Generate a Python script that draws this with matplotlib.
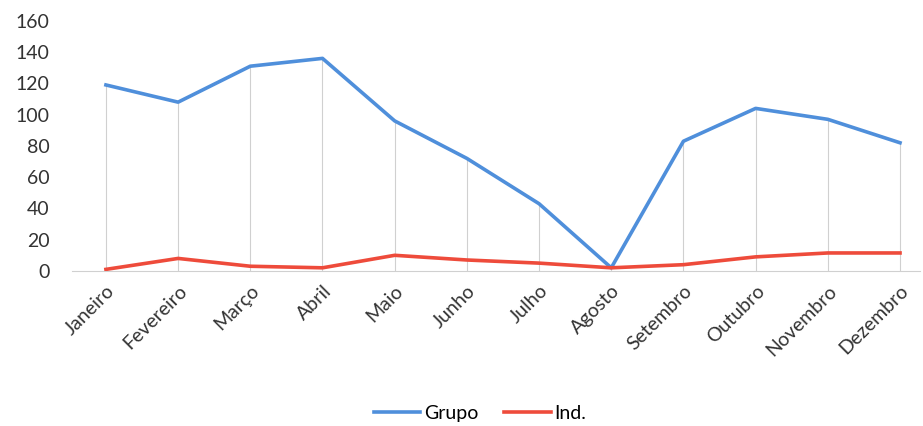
import matplotlib
matplotlib.use('Agg')
import matplotlib.pyplot as plt
import numpy as np

meses = ['Janeiro', 'Fevereiro', 'Março', 'Abril', 'Maio', 'Junho',
         'Julho', 'Agosto', 'Setembro', 'Outubro', 'Novembro', 'Dezembro']
grupo = [119, 108, 131, 136, 96, 72, 43, 2, 83, 104, 97, 82]
ind = [1, 8, 3, 2, 10, 7, 5, 2, 4, 9, 11.5, 11.5]

plt.rcParams['font.family'] = ['Lato', 'DejaVu Sans']

def main():
	fig = plt.figure(figsize=(9.23, 4.26), dpi=100)
	ax = fig.add_axes([0.078, 0.364, 0.919, 0.587])
	x = np.arange(len(meses))

	# drop lines from the higher point down to the axis
	top = np.maximum(grupo, ind)
	ax.vlines(x, 0, top, color='#d0d0d0', linewidth=0.8, zorder=1)

	ax.plot(x, grupo, color='#4F8FDB', linewidth=2.6, label='Grupo', zorder=3)
	ax.plot(x, ind, color='#EE4B3B', linewidth=2.6, label='Ind.', zorder=3)

	ax.set_xlim(-0.47, 11.28)
	ax.set_ylim(0, 160)
	ax.set_yticks(range(0, 161, 20))
	ax.set_xticks(x)
	ax.set_xticklabels(meses, rotation=45, ha='right', rotation_mode='anchor')
	ax.tick_params(axis='both', length=0, labelsize=14, colors='#333333')
	ax.tick_params(axis='x', pad=8)
	ax.tick_params(axis='y', pad=16)

	for s in ['top', 'right', 'left']:
		ax.spines[s].set_visible(False)
	ax.spines['bottom'].set_color('#d0d0d0')
	ax.spines['bottom'].set_linewidth(0.8)

	fig.legend(loc='center', bbox_to_anchor=(0.52, 0.03), ncol=2, frameon=False,
		fontsize=14, handlelength=2.4, columnspacing=1.3, handletextpad=0.2)

	fig.savefig('out.png', dpi=100)

if __name__ == '__main__':
	main()
